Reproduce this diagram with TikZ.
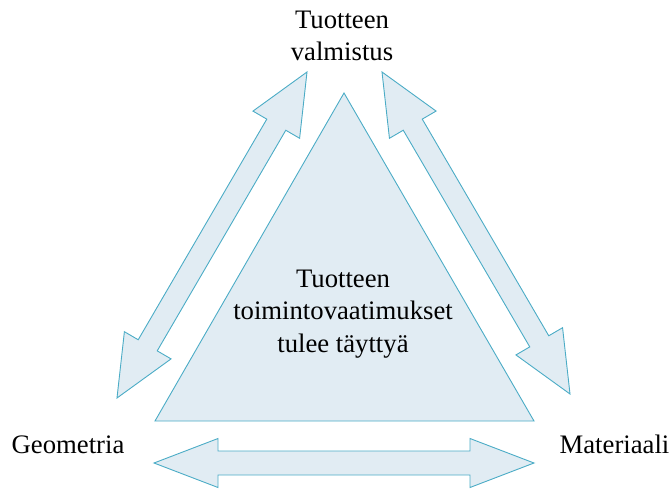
\documentclass[tikz,border=0pt]{standalone}
\usepackage{fontspec}
\setmainfont{Liberation Serif}
\usetikzlibrary{calc}
\definecolor{edgeblue}{RGB}{75,172,198}
\definecolor{fillblue}{RGB}{225,236,243}
\tikzset{
  shapestyle/.style={draw=edgeblue, fill=fillblue, line width=0.9pt, line join=miter},
  lbl/.style={font=\fontsize{26.7}{32.5}\selectfont, align=center, inner sep=0pt},
}
\newcommand\dblarr[5]{% A B headlen headhalf shafthalf
  \path[shapestyle] (#1)
    -- ($(#1)!#3!(#2)!#4!90:(#2)$)
    -- ($(#1)!#3!(#2)!#5!90:(#2)$)
    -- ($(#2)!#3!(#1)!#5!-90:(#1)$)
    -- ($(#2)!#3!(#1)!#4!-90:(#1)$)
    -- (#2)
    -- ($(#2)!#3!(#1)!#4!90:(#1)$)
    -- ($(#2)!#3!(#1)!#5!90:(#1)$)
    -- ($(#1)!#3!(#2)!#5!-90:(#2)$)
    -- ($(#1)!#3!(#2)!#4!-90:(#2)$)
    -- cycle;
}
\begin{document}
\begin{tikzpicture}[x=1pt,y=-1pt]
\useasboundingbox (0,0) rectangle (671,489);
% triangle
\coordinate (apex) at (344,93);
\coordinate (bl) at (155,421);
\coordinate (br) at (534,421);
\path[shapestyle] (apex) -- (br) -- (bl) -- cycle;
\node[lbl, anchor=base] (centre) at (343,352) {Tuotteen\\toimintovaatimukset\\tulee täyttyä};
% arrows
\coordinate (la) at (307,72);
\coordinate (lb) at (117,398);
\coordinate (ra) at (382,72);
\coordinate (rb) at (570,394);
\coordinate (ba) at (154,463);
\coordinate (bb) at (534,463);
\dblarr{la}{lb}{61pt}{27pt}{11pt}
\dblarr{ra}{rb}{61pt}{27pt}{11pt}
\dblarr{ba}{bb}{64pt}{24.5pt}{12pt}
% labels
\node[lbl, anchor=base] (top) at (342,61) {Tuotteen\\valmistus};
\node[lbl, anchor=base] (geo) at (68,453) {Geometria};
\node[lbl, anchor=base] (mat) at (614.5,453) {Materiaali};
\end{tikzpicture}
\end{document}
